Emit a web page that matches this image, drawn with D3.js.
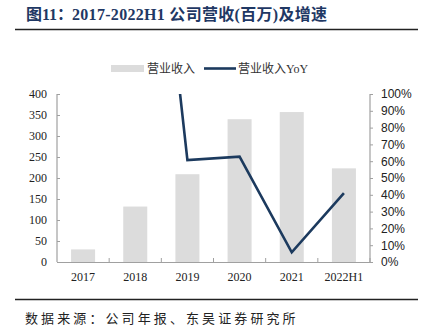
<!DOCTYPE html>
<html><head><meta charset="utf-8">
<script src="https://cdn.jsdelivr.net/npm/d3@7"></script>
<style>body{margin:0;background:#fff}svg{display:block}</style>
</head><body>
<script>
const categories = ["2017","2018","2019","2020","2021","2022H1"];
const revenue = [30, 132, 209, 340, 357, 223];
const yoy = [null, 3.40, 0.607, 0.627, 0.058, 0.41];
const leftTicks = [0,50,100,150,200,250,300,350,400];
const rightTicks = [0,0.1,0.2,0.3,0.4,0.5,0.6,0.7,0.8,0.9,1.0];
const titleParts = ["图11：", "2017-2022H1 公司营收(百万)及增速"];
const sourceText = "数据来源：公司年报、东吴证券研究所";
const legendLabels = ["营业收入","营业收入YoY"];

const W=421,H=335;
const svg=d3.select("body").append("svg").attr("width",W).attr("height",H);
const navy="#1c3a5e", axisC="#a0a0a0", barC="#dcdcdc";
const serif="'Liberation Serif','Noto Sans CJK SC',serif";
const cjk="'Noto Sans CJK SC',sans-serif";

// title
const t=svg.append("text").attr("x",26).attr("y",20).attr("fill","#1f3864")
  .attr("font-family",serif).attr("font-weight","bold").attr("font-size",16);
t.append("tspan").text(titleParts[0]);
t.append("tspan").attr("x",72).attr("letter-spacing",0.3).text(titleParts[1]);
svg.append("line").attr("x1",15).attr("x2",418).attr("y1",29.5).attr("y2",29.5).attr("stroke","#222").attr("stroke-width",1.6);
svg.append("line").attr("x1",15).attr("x2",418).attr("y1",299.5).attr("y2",299.5).attr("stroke","#222").attr("stroke-width",1.6);
svg.append("text").attr("x",25).attr("y",323).attr("fill","#222")
  .attr("font-family",cjk).attr("font-size",13).attr("letter-spacing",3.1).text(sourceText);

const x=d3.scaleBand().domain(categories).range([57,370]).paddingInner(0.54).paddingOuter(0.27);
const xb=d3.scaleBand().domain(categories).range([57,370]);
const yL=d3.scaleLinear().domain([0,400]).range([262,94]);
const yR=d3.scaleLinear().domain([0,1]).range([262,94]);

// bars
svg.append("g").selectAll("rect").data(revenue).join("rect")
  .attr("x",(d,i)=>x(categories[i])).attr("width",x.bandwidth())
  .attr("y",d=>yL(d)).attr("height",d=>yL(0)-yL(d)).attr("fill",barC);

// line
svg.append("clipPath").attr("id","clip").append("rect").attr("x",57).attr("y",94).attr("width",313).attr("height",168);
const pts=yoy.map((v,i)=>({v,c:categories[i]})).filter(d=>d.v!=null);
svg.append("path").datum(pts).attr("clip-path","url(#clip)")
  .attr("d",d3.line().x(d=>xb(d.c)+xb.bandwidth()/2).y(d=>yR(d.v)))
  .attr("fill","none").attr("stroke",navy).attr("stroke-width",2.6).attr("stroke-linejoin","miter");

// axes
const gL=svg.append("g").attr("transform","translate(57,0)")
  .call(d3.axisRight(yL).tickValues(leftTicks).tickSize(3).tickFormat(d3.format("d")));
gL.selectAll("text").attr("x",-10).attr("text-anchor","end").attr("font-family",serif).attr("font-size",12).attr("fill","#222");
const gR=svg.append("g").attr("transform","translate(370,0)")
  .call(d3.axisRight(yR).tickValues(rightTicks).tickSize(3).tickFormat(d3.format(".0%")));
gR.selectAll("text").attr("x",11).attr("font-family","'Liberation Sans',Arial,sans-serif").attr("font-size",12).attr("fill","#222");
const gX=svg.append("g").attr("transform","translate(0,262)")
  .call(d3.axisBottom(xb).tickSize(0).tickPadding(10));
gX.selectAll("text").attr("font-family",serif).attr("font-size",12).attr("fill","#222");
gX.selectAll(".tick").append("line").attr("x1",xb.bandwidth()/2).attr("x2",xb.bandwidth()/2).attr("y1",0).attr("y2",-4).attr("stroke",axisC);
[gL,gR,gX].forEach(g=>{g.select(".domain").attr("stroke",axisC).attr("stroke-width",1.2);g.selectAll(".tick line").attr("stroke",axisC);});
gL.select(".domain").attr("d","M0,94V262");
gR.select(".domain").attr("d","M0,94V262");

// legend
const lg=svg.append("g");
lg.append("rect").attr("x",111).attr("y",65).attr("width",33).attr("height",7).attr("fill",barC);
lg.append("text").attr("x",147).attr("y",72.5).attr("font-family",serif).attr("font-size",12).attr("fill","#333").text(legendLabels[0]);
lg.append("line").attr("x1",204).attr("x2",236).attr("y1",68.5).attr("y2",68.5).attr("stroke",navy).attr("stroke-width",2.6);
lg.append("text").attr("x",238).attr("y",72.5).attr("font-family",serif).attr("font-size",12).attr("fill","#333").text(legendLabels[1]);
</script>
</body></html>
